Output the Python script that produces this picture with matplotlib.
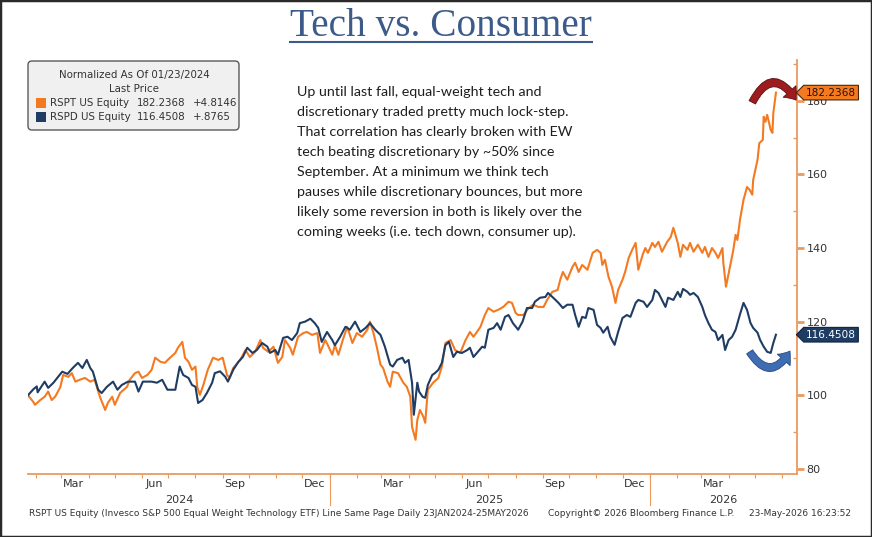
import matplotlib
matplotlib.use("Agg")
import matplotlib.pyplot as plt
import matplotlib.dates as mdates
import numpy as np
import pandas as pd
from matplotlib.path import Path
from matplotlib.patches import FancyBboxPatch, FancyArrowPatch, Rectangle
from matplotlib.lines import Line2D
from matplotlib.transforms import IdentityTransform

# ---------------- data ----------------
START = "2024-01-23"

rspt_days = [0, 6, 8, 14, 19, 23, 27, 31, 37, 40, 46, 50, 54, 59, 65, 71, 76, 82, 88, 91,
             96, 99, 105, 113, 116, 122, 126, 130, 136, 141, 145, 151, 156, 162, 168, 171, 176, 179, 183, 187,
             191, 193, 196, 200, 205, 211, 217, 222, 227, 230, 234, 242, 248, 253, 259, 265, 268, 274, 280, 285,
             290, 293, 299, 302, 308, 314, 318, 324, 330, 333, 339, 342, 347, 350, 354, 359, 364, 370, 375, 381,
             387, 390, 394, 398, 402, 405, 410, 413, 416, 422, 428, 432, 436, 438, 442, 444, 447, 451, 453, 456,
             462, 468, 472, 476, 482, 487, 493, 499, 504, 508, 512, 516, 521, 525, 531, 536, 542, 548, 552, 556,
             559, 565, 571, 576, 582, 588, 592, 598, 604, 607, 610, 615, 621, 624, 628, 632, 638, 644, 649, 653,
             655, 658, 662, 666, 670, 673, 678, 681, 685, 689, 693, 696, 701, 704, 707, 712, 715, 719, 723, 729,
             733, 736, 741, 744, 747, 752, 755, 759, 764, 769, 772, 776, 780, 784, 787, 792, 793, 796, 801, 804,
             807, 809, 812, 816, 820, 823, 826, 827, 832, 834, 838, 839, 841, 843, 847, 849, 850, 853]
rspt_vals = [100.0, 98.2, 97.4, 98.7, 99.6, 101.0, 98.7, 99.6, 102.3, 105.5, 105.0, 106.0, 103.7, 104.2, 104.7, 103.7, 104.2, 99.6, 96.0, 97.9,
             99.6, 97.4, 100.6, 102.3, 104.2, 106.0, 106.4, 104.7, 105.5, 106.9, 110.2, 109.1, 108.8, 110.2, 111.5, 112.9, 114.5, 110.2, 109.1, 106.9,
             107.8, 102.3, 100.1, 102.8, 106.9, 110.2, 109.6, 110.2, 105.5, 104.7, 107.4, 109.6, 112.3, 110.4, 111.8, 115.0, 112.9, 111.8, 113.2, 108.8,
             110.4, 115.0, 112.9, 111.0, 115.9, 116.9, 117.2, 116.4, 116.9, 111.5, 115.0, 113.6, 111.0, 113.6, 111.0, 115.0, 118.6, 114.2, 116.9, 115.9,
             117.8, 120.0, 116.9, 112.9, 108.3, 107.4, 103.7, 102.3, 106.4, 106.0, 103.4, 102.3, 99.6, 91.4, 87.9, 93.3, 96.0, 94.1, 92.5, 101.5,
             103.4, 104.7, 107.8, 114.2, 115.0, 112.3, 111.5, 115.0, 117.2, 115.9, 117.2, 118.6, 121.8, 123.7, 122.7, 123.2, 124.0, 125.4, 125.1, 122.4,
             121.8, 121.8, 123.7, 124.6, 124.0, 124.0, 125.9, 128.1, 128.6, 131.4, 133.5, 131.4, 134.9, 136.0, 133.5, 135.4, 134.1, 138.7, 139.5, 138.7,
             135.4, 136.8, 132.2, 129.5, 125.1, 128.6, 131.4, 133.5, 137.3, 139.5, 141.4, 134.1, 138.2, 140.0, 138.7, 141.4, 140.3, 141.7, 139.0, 141.7,
             143.0, 145.5, 141.4, 137.6, 140.9, 139.5, 141.4, 139.0, 140.9, 138.7, 140.3, 137.6, 140.0, 138.7, 137.3, 140.0, 136.0, 129.5, 135.4, 139.0,
             143.6, 142.2, 147.7, 153.1, 156.6, 155.8, 154.5, 158.5, 164.0, 168.5, 169.4, 175.7, 174.3, 176.2, 172.1, 171.3, 176.7, 182.2368]

rspd_days = [0, 6, 10, 11, 19, 23, 29, 39, 45, 51, 57, 62, 67, 71, 74, 80, 84, 90, 97, 102,
             107, 114, 122, 126, 131, 141, 147, 153, 159, 168, 173, 177, 183, 187, 191, 194, 199, 204, 210, 213,
             219, 225, 228, 234, 240, 245, 250, 256, 261, 267, 273, 276, 282, 285, 291, 296, 301, 307, 310, 316,
             322, 327, 331, 335, 341, 347, 350, 356, 362, 367, 373, 379, 385, 390, 396, 402, 407, 413, 416, 421,
             427, 430, 434, 438, 440, 444, 446, 450, 453, 456, 461, 464, 468, 472, 476, 480, 485, 489, 495, 501,
             504, 508, 512, 518, 521, 525, 531, 535, 539, 544, 548, 553, 559, 564, 569, 575, 578, 584, 590, 593,
             599, 605, 610, 615, 621, 624, 628, 632, 636, 639, 645, 649, 653, 656, 661, 664, 669, 673, 678, 683,
             687, 693, 696, 702, 706, 712, 715, 719, 723, 727, 730, 736, 741, 744, 747, 752, 755, 759, 764, 769,
             772, 776, 780, 784, 787, 792, 795, 799, 803, 807, 812, 816, 820, 824, 827, 832, 835, 839, 843, 847,
             850, 853]
rspd_vals = [100.0, 101.6, 102.4, 100.8, 103.7, 102.0, 103.4, 106.4, 105.8, 107.4, 108.8, 107.4, 109.6, 107.4, 106.4, 101.5, 100.6, 102.3, 103.7, 101.5,
             102.8, 103.7, 103.7, 101.0, 103.7, 103.7, 103.4, 104.2, 101.5, 101.5, 107.8, 105.5, 104.7, 102.8, 102.3, 97.9, 98.7, 100.6, 103.4, 106.0,
             106.5, 105.0, 103.7, 106.9, 109.1, 110.4, 112.9, 111.5, 112.3, 114.2, 113.2, 111.5, 112.3, 111.0, 115.6, 115.9, 115.0, 116.9, 119.6, 120.0,
             120.8, 119.6, 118.3, 114.5, 117.2, 115.0, 113.6, 115.9, 118.6, 117.8, 120.0, 117.2, 118.3, 119.6, 117.8, 116.4, 113.2, 108.3, 107.8, 109.6,
             110.2, 108.8, 109.6, 103.4, 94.7, 103.4, 101.0, 99.6, 99.3, 102.8, 105.5, 106.0, 106.9, 108.8, 113.6, 114.5, 110.4, 111.8, 111.5, 112.3,
             112.9, 110.4, 111.5, 113.2, 112.9, 117.8, 118.3, 119.6, 117.8, 121.3, 121.8, 119.6, 117.8, 120.0, 123.7, 123.7, 125.4, 126.5, 126.7, 127.8,
             126.5, 125.1, 123.7, 124.6, 124.6, 121.8, 118.6, 121.3, 121.0, 123.7, 123.2, 119.1, 118.3, 117.0, 118.6, 115.9, 113.7, 117.2, 121.0, 121.8,
             121.3, 125.1, 125.9, 125.4, 124.0, 125.9, 128.6, 127.8, 125.9, 124.0, 126.5, 125.9, 128.1, 126.7, 128.9, 128.1, 127.3, 127.8, 126.7, 124.0,
             121.8, 119.6, 117.8, 117.2, 115.0, 116.4, 112.3, 115.0, 115.9, 117.8, 122.0, 125.1, 123.2, 119.6, 118.3, 117.0, 115.0, 113.2, 111.8, 111.5,
             114.2, 116.4508]

series_names = ["RSPT US Equity", "RSPD US Equity"]
last_prices = ["182.2368", "116.4508"]
changes = ["+4.8146", "+.8765"]
legend_head = ["Normalized As Of 01/23/2024", "Last Price"]
y_major = [80, 100, 120, 140, 160, 180]
y_minor = [90, 110, 130, 150, 170, 190]
year_labels = ["2024", "2025", "2026"]
title_text = "Tech vs. Consumer"
note_lines = [
    "Up until last fall, equal-weight tech and",
    "discretionary traded pretty much lock-step.",
    "That correlation has clearly broken with EW",
    "tech beating discretionary by ~50% since",
    "September. At a minimum we think tech",
    "pauses while discretionary bounces, but more",
    "likely some reversion in both is likely over the",
    "coming weeks (i.e. tech down, consumer up).",
]
footer_left = "RSPT US Equity (Invesco S&P 500 Equal Weight Technology ETF) Line Same Page Daily 23JAN2024-25MAY2026"
footer_mid = "Copyright\u00a9 2026 Bloomberg Finance L.P."
footer_right = "23-May-2026 16:23:52"

# ---------------- styling ----------------
W, H = 872, 537
ORANGE = "#f47a22"
NAVY = "#1f3c63"
AXC = "#eb9a5e"
TXT = "#333333"
TITLE_C = "#3c5a8a"

fig = plt.figure(figsize=(W / 100, H / 100), dpi=100)
fig.patch.set_facecolor("white")
ax = fig.add_axes([28 / W, 1 - 474 / H, (797 - 28) / W, (474 - 60) / H])

start = pd.Timestamp(START)
t_rspt = start + pd.to_timedelta(rspt_days, unit="D")
t_rspd = start + pd.to_timedelta(rspd_days, unit="D")

ax.plot(t_rspt, rspt_vals, color=ORANGE, lw=1.5, zorder=3, solid_joinstyle="round")
ax.plot(t_rspd, rspd_vals, color=NAVY, lw=1.5, zorder=4, solid_joinstyle="round")

x_lo = start
x_hi = start + pd.Timedelta(days=877)
ax.set_xlim(x_lo, x_hi)
ax.set_ylim(78.6, 191.1)

for s in ["top", "left"]:
    ax.spines[s].set_visible(False)
for s in ["right", "bottom"]:
    ax.spines[s].set_color(AXC)
    ax.spines[s].set_linewidth(1.3)

# y axis on the right
ax.yaxis.tick_right()
ax.set_yticks(y_major)
ax.set_yticklabels([str(v) for v in y_major])
ax.set_yticks(y_minor, minor=True)
ax.tick_params(axis="y", which="major", length=5, width=2, color=AXC, pad=2,
               labelsize=8, labelcolor=TXT, direction="out")
ax.tick_params(axis="y", which="minor", length=3, width=1, color=AXC, direction="in")

# x axis: month ticks, quarterly labels, year labels
month_starts = pd.date_range(start.normalize() + pd.offsets.MonthBegin(1), x_hi, freq="MS")
ax.set_xticks(month_starts, minor=True)
label_months = pd.date_range("2024-03-01", "2026-03-01", freq="3MS") + pd.Timedelta(days=14)
ax.set_xticks(label_months)
ax.set_xticklabels([d.strftime("%b") for d in label_months])
ax.tick_params(axis="x", which="major", length=0, pad=3.5, labelsize=8, labelcolor=TXT)
ax.tick_params(axis="x", which="minor", length=3, width=0.8, color=AXC, direction="out")

xt = ax.get_xaxis_transform()
bounds = [x_lo, pd.Timestamp("2025-01-01"), pd.Timestamp("2026-01-01"), x_hi]
for i, lab in enumerate(year_labels):
    c = mdates.date2num(bounds[i]) / 2 + mdates.date2num(bounds[i + 1]) / 2
    ax.text(c, -0.062, lab, transform=xt, ha="center", va="center", fontsize=8, color=TXT)
for b in bounds[1:3]:
    bn = mdates.date2num(b)
    ax.plot([bn, bn], [0, -0.075], transform=xt, clip_on=False, color=AXC, lw=0.8)

# value tags on the right axis
def tag_box(x0, y0, width, height, mutation_size):
    pad = 0.22 * mutation_size
    x0 -= pad
    y0 -= pad
    width += 2 * pad
    height += 2 * pad
    tip = height * 0.5
    verts = [(x0, y0), (x0 + width, y0), (x0 + width, y0 + height), (x0, y0 + height),
             (x0 - tip, y0 + height / 2), (x0, y0)]
    codes = [Path.MOVETO] + [Path.LINETO] * 4 + [Path.CLOSEPOLY]
    return Path(verts, codes)

ax.annotate(last_prices[0], xy=(1, rspt_vals[-1]), xycoords=("axes fraction", "data"),
            xytext=(9, 0), textcoords="offset pixels", ha="left", va="center",
            fontsize=7.6, color="#2a1200", zorder=6, annotation_clip=False,
            bbox=dict(boxstyle=tag_box, fc=ORANGE, ec="#4a2608", lw=0.8))
ax.annotate(last_prices[1], xy=(1, rspd_vals[-1]), xycoords=("axes fraction", "data"),
            xytext=(9, 0), textcoords="offset pixels", ha="left", va="center",
            fontsize=7.6, color="white", zorder=6, annotation_clip=False,
            bbox=dict(boxstyle=tag_box, fc=NAVY, ec="#0e2240", lw=0.8))

# curved arrows near the ends
end = start + pd.Timedelta(days=rspt_days[-1])
def dn(days):
    return mdates.date2num(end + pd.Timedelta(days=days))

red_arc = FancyArrowPatch((dn(-27), 179.6), (dn(23), 180.2), connectionstyle="arc3,rad=-0.85",
                          arrowstyle="simple,head_length=0.6,head_width=0.95,tail_width=0.4",
                          mutation_scale=13, fc="#9c1c1f", ec="#5e0e10", lw=0.6,
                          shrinkA=0, shrinkB=0, zorder=7, clip_on=False)
ax.add_patch(red_arc)
blue_arc = FancyArrowPatch((dn(-30), 111.8), (dn(16), 112.0), connectionstyle="arc3,rad=0.8",
                           arrowstyle="simple,head_length=0.6,head_width=0.95,tail_width=0.4",
                           mutation_scale=13, fc="#3e6db3", ec="#27497e", lw=0.6,
                           shrinkA=0, shrinkB=0, zorder=7, clip_on=False)
ax.add_patch(blue_arc)

# ---------------- figure-level texts ----------------
r = fig.canvas.get_renderer()
ID = IdentityTransform()

def fit(t, target):
    w = t.get_window_extent(r).width
    t.set_fontsize(t.get_fontsize() * target / w)

# title with underline
tt = fig.text(441 / W, 1 - 36 / H, title_text, ha="center", va="baseline",
              family="Liberation Serif", fontsize=27, color=TITLE_C)
fit(tt, 301)
bb = tt.get_window_extent(r)
fig.add_artist(Line2D([bb.x0, bb.x1], [H - 41.7, H - 41.7], transform=ID, color=TITLE_C, lw=1.5))

# commentary
note_artists = []
for i, line in enumerate(note_lines):
    note_artists.append(fig.text(297 / W, 1 - (91.7 + 20 * i) / H, line, ha="left", va="center",
                                 family="Lato", fontsize=10, color="#1e1e1e"))
w6 = note_artists[5].get_window_extent(r).width
scale = 285 / w6
for a in note_artists:
    a.set_fontsize(a.get_fontsize() * scale)

# legend box
lg = FancyBboxPatch((28, H - 130), 211, 69, boxstyle="round,pad=0,rounding_size=4",
                    transform=ID, fc="#f0f0f0", ec="#5a5a5a", lw=1.0, zorder=5)
fig.add_artist(lg)
fig.text(134, H - 75, legend_head[0], transform=ID, ha="center", va="center", fontsize=7.4, color=TXT, zorder=6)
fig.text(134, H - 89, legend_head[1], transform=ID, ha="center", va="center", fontsize=7.4, color=TXT, zorder=6)
for k, (yc, col) in enumerate([(103, ORANGE), (117, NAVY)]):
    fig.add_artist(Rectangle((35.5, H - yc - 5), 10.5, 10, transform=ID, fc=col, ec="none", zorder=6))
    fig.text(50, H - yc, series_names[k], transform=ID, ha="left", va="center", fontsize=7.4, color=TXT, zorder=6)
    fig.text(137, H - yc, last_prices[k], transform=ID, ha="left", va="center", fontsize=7.4, color=TXT, zorder=6)
    fig.text(193, H - yc, changes[k], transform=ID, ha="left", va="center", fontsize=7.4, color=TXT, zorder=6)

# footer
fl = fig.text(29 / W, 1 - 513 / H, footer_left, ha="left", va="center", fontsize=6.4, color=TXT)
fit(fl, 498)
fs = fl.get_fontsize()
fig.text(548 / W, 1 - 513 / H, footer_mid, ha="left", va="center", fontsize=fs, color=TXT)
fig.text(851 / W, 1 - 513 / H, footer_right, ha="right", va="center", fontsize=fs, color=TXT)

# outer frame
fig.add_artist(Rectangle((0, 0), 1, 1, transform=fig.transFigure, fill=False, ec="#2a2a2a", lw=2.5, zorder=20))

fig.savefig("out.png", dpi=100)
